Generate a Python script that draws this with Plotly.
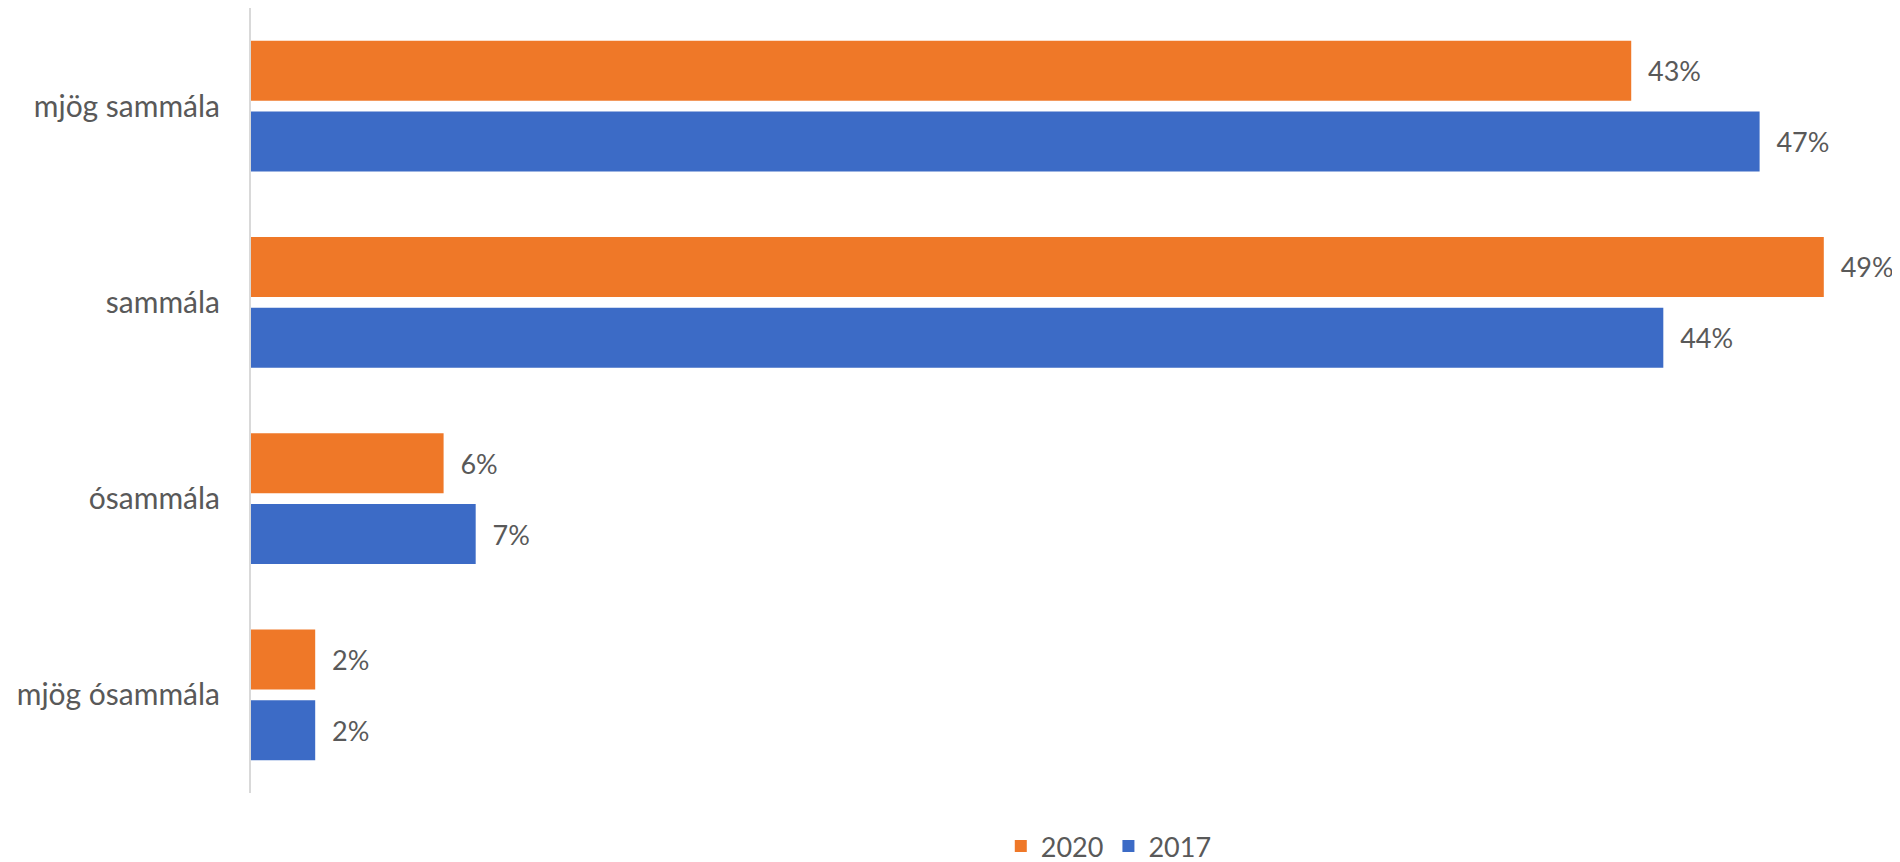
import plotly.graph_objects as go

categories = ["mjög sammála", "sammála", "ósammála", "mjög ósammála"]
values_2020 = [43, 49, 6, 2]
values_2017 = [47, 44, 7, 2]
series_names = ["2020", "2017"]

FONT = "Lato"
TXT = "#595959"
ORANGE = "#EF7828"
BLUE = "#3C6BC6"
PAD = "\u00a0\u00a0"

fig = go.Figure()
for name, vals, col in [(series_names[0], values_2020, ORANGE), (series_names[1], values_2017, BLUE)]:
    fig.add_trace(go.Bar(
        name=name, y=categories, x=vals, orientation="h",
        marker=dict(color=col, line=dict(width=0)),
        text=[f"{PAD}{v}%" for v in vals], textposition="outside",
        textfont=dict(family=FONT, size=27, color=TXT),
        cliponaxis=False,
    ))

fig.update_layout(
    width=1892, height=854,
    paper_bgcolor="white", plot_bgcolor="white",
    margin=dict(l=243, r=12, t=0, b=69, autoexpand=False),
    barmode="group", bargap=0.277, bargroupgap=0.155,
    font=dict(family=FONT, size=27, color=TXT),
    showlegend=True,
    legend=dict(orientation="h", x=0.524, xanchor="center", y=-0.037, yanchor="top",
                font=dict(family=FONT, size=27, color=TXT), traceorder="normal"),
)
fig.update_xaxes(range=[0, 51], showgrid=False, zeroline=False, showticklabels=False,
                 showline=False, fixedrange=True)
fig.update_yaxes(autorange="reversed", showline=True, linecolor="#D9D9D9", linewidth=2,
                 ticks="", ticklabelstandoff=23, tickfont=dict(family=FONT, size=30, color=TXT),
                 showgrid=False)

fig.write_html("out.html")
